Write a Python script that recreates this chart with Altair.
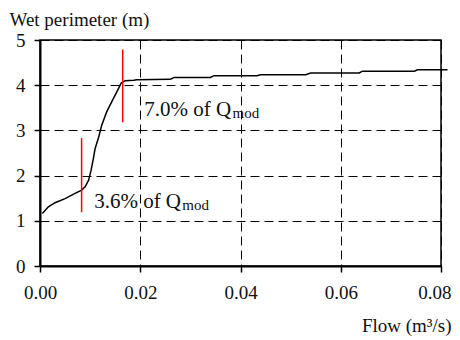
import altair as alt
import pandas as pd

# Curve: flow (m3/s) vs wet perimeter (m)
flow = [0.00047, 0.00167, 0.0030, 0.0050, 0.0067, 0.0083, 0.0090, 0.0097, 0.0102,
        0.0107, 0.0110, 0.0117, 0.0123, 0.0133, 0.0143, 0.0155, 0.0162, 0.0170,
        0.0187, 0.0193, 0.0260, 0.0267, 0.0340, 0.0347, 0.0433, 0.0440, 0.0530,
        0.0540, 0.0637, 0.0643, 0.0747, 0.0753, 0.0813]
perim = [1.16, 1.31, 1.40, 1.49, 1.59, 1.68, 1.75, 1.90, 2.12,
         2.41, 2.60, 2.85, 3.11, 3.41, 3.63, 3.89, 4.05, 4.10,
         4.11, 4.12, 4.13, 4.17, 4.17, 4.21, 4.21, 4.23, 4.23,
         4.27, 4.27, 4.31, 4.31, 4.34, 4.34]

# Red marker lines
mark_x = [0.0083, 0.0165]
mark_y1 = [1.19, 3.18]
mark_y2 = [2.83, 4.79]

# Annotations
ann_text = ["3.6% of Q", "7.0% of Q"]
ann_x = [0.0108, 0.0208]
ann_y = [1.29, 3.325]
sub_text = ["mod", "mod"]
sub_x = [0.0284, 0.0384]
sub_y = [1.24, 3.27]

x_ticks = [0.0, 0.02, 0.04, 0.06, 0.08]
y_ticks = [0, 1, 2, 3, 4, 5]

FONT = "Liberation Serif, Times New Roman, DejaVu Serif, serif"

curve = pd.DataFrame({"flow": flow, "perim": perim, "order": range(len(flow))})
marks = pd.DataFrame({"x": mark_x, "y1": mark_y1, "y2": mark_y2})
ann = pd.DataFrame({"t": ann_text, "x": ann_x, "y": ann_y})
sub = pd.DataFrame({"t": sub_text, "x": sub_x, "y": sub_y})

xscale = alt.Scale(domain=[0, 0.08], nice=False, zero=False)
yscale = alt.Scale(domain=[0, 5], nice=False)

common = dict(
    labelFont=FONT, titleFont=FONT, labelFontSize=19, titleFontSize=19,
    labelColor="#111111", titleColor="#111111", titleFontWeight="normal",
    domainColor="black", domainWidth=2, tickColor="black", tickWidth=1.5,
    tickSize=6, labelFlush=False, labelOverlap=False,
    grid=True, gridColor="black", gridDash=[9, 5], gridWidth=1, gridOpacity=1,
)

xaxis = alt.Axis(
    values=x_ticks, format=".2f", title="Flow (m³/s)",
    titleAlign="right", titleAnchor="start", titleBaseline="alphabetic",
    titleX=411, titleY=65, labelPadding=11,
    labelAlign={"condition": {"test": "datum.value >= 0.079", "value": "right"}, "value": "center"},
    labelOffset={"condition": {"test": "datum.value >= 0.079", "value": 10}, "value": 0},
    **common,
)
yaxis = alt.Axis(
    values=y_ticks, format="d", title="Wet perimeter (m)",
    titleAngle=0, titleAlign="left", titleAnchor="start", titleBaseline="alphabetic",
    titleX=-31, titleY=-15, labelPadding=9, **common,
)

line = alt.Chart(curve).mark_line(color="black", strokeWidth=1.5).encode(
    x=alt.X("flow:Q", scale=xscale, axis=xaxis),
    y=alt.Y("perim:Q", scale=yscale, axis=yaxis),
    order="order:Q",
)

rules = alt.Chart(marks).mark_rule(color="#ff0000", strokeWidth=1.5).encode(
    x="x:Q", y="y1:Q", y2="y2:Q"
)

texts = alt.Chart(ann).mark_text(
    font=FONT, fontSize=21, align="left", baseline="alphabetic", color="#111111"
).encode(x="x:Q", y="y:Q", text="t:N")

subs = alt.Chart(sub).mark_text(
    font=FONT, fontSize=15, align="left", baseline="alphabetic", color="#111111"
).encode(x="x:Q", y="y:Q", text="t:N")

chart = (
    alt.layer(line, rules, texts, subs)
    .properties(
        width=401, height=226,
        autosize=alt.AutoSizeParams(type="none"),
        padding={"left": 32, "top": 32, "right": 11, "bottom": 70},
    )
    .configure(font=FONT)
    .configure_view(stroke="black", strokeWidth=1.5)
)

chart.save("out.html", embed_options={"renderer": "svg", "actions": False})
